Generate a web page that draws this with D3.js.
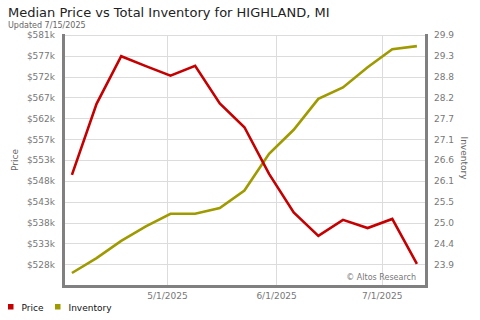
<!DOCTYPE html>
<html><head><meta charset="utf-8">
<script src="https://cdn.jsdelivr.net/npm/d3@7"></script>
<style>
body{margin:0;background:#fff;}
svg{display:block;font-family:"DejaVu Sans",sans-serif;}
</style></head>
<body><svg id="c" width="480" height="320"></svg>
<script>
const dates = ["2025-04-04","2025-04-11","2025-04-18","2025-04-25","2025-05-02","2025-05-09","2025-05-16","2025-05-23","2025-05-30","2025-06-06","2025-06-13","2025-06-20","2025-06-27","2025-07-04","2025-07-11"];
const price = [549.1,565.5,576.5,574.2,572.0,574.3,565.6,560.1,549.3,540.4,535.0,538.7,536.8,538.9,528.5];
const inventory = [23.64,24.03,24.48,24.86,25.19,25.19,25.34,25.80,26.76,27.39,28.20,28.50,29.03,29.50,29.58];
const priceTickLabels = ["$581k","$577k","$572k","$567k","$562k","$557k","$553k","$548k","$543k","$538k","$533k","$528k"];
const invTickLabels = ["29.9","29.3","28.8","28.2","27.7","27.1","26.6","26.1","25.5","25.0","24.4","23.9"];
const xTickDates = ["2025-05-01","2025-06-01","2025-07-01"];
const xTickLabels = ["5/1/2025","6/1/2025","7/1/2025"];
const priceTop = 581.4, priceStep = 4.813;
const invTop = 29.872, invStep = 0.5455;

const svg = d3.select("#c");
const L = 64, R = 426, T = 35, B = 285;
const parse = d3.utcParse("%Y-%m-%d");
const x = d3.scaleUtc().domain([new Date(Date.UTC(2025,3,1,18,0)), new Date(Date.UTC(2025,6,13,14,0))]).range([L, R]);
const yP = d3.scaleLinear().domain([priceTop - 12*priceStep, priceTop]).range([B, T]);
const yI = d3.scaleLinear().domain([invTop - 12*invStep, invTop]).range([B, T]);
const pTicks = priceTickLabels.map((d,i)=>priceTop - i*priceStep);
const iTicks = invTickLabels.map((d,i)=>invTop - i*invStep);

// gridlines
svg.append("g").selectAll("line").data(pTicks).join("line")
  .attr("x1", L).attr("x2", R).attr("y1", d=>Math.round(yP(d))+0.5).attr("y2", d=>Math.round(yP(d))+0.5)
  .attr("stroke","#dcdcdc").attr("stroke-width",1);
svg.append("g").selectAll("line").data(xTickDates).join("line")
  .attr("x1", d=>Math.round(x(parse(d)))+0.5).attr("x2", d=>Math.round(x(parse(d)))+0.5)
  .attr("y1", T).attr("y2", B)
  .attr("stroke","#dcdcdc").attr("stroke-width",1);

// axes bars
svg.append("line").attr("x1",L-0.5).attr("x2",L-0.5).attr("y1",T-1).attr("y2",B+3).attr("stroke","#808080").attr("stroke-width",3);
svg.append("line").attr("x1",R+0.5).attr("x2",R+0.5).attr("y1",T-1).attr("y2",B+3).attr("stroke","#808080").attr("stroke-width",3);
svg.append("line").attr("x1",L-2).attr("x2",R+2).attr("y1",B+1.5).attr("y2",B+1.5).attr("stroke","#808080").attr("stroke-width",3);

// axis labels
const leftAx = d3.axisLeft(yP).tickValues(pTicks).tickFormat((d,i)=>priceTickLabels[i]).tickSize(0).tickPadding(8);
const gL = svg.append("g").attr("transform",`translate(${L-1},0)`).call(leftAx);
gL.select(".domain").remove();
gL.selectAll("text").attr("fill","#777").style("font-size","9px").style("font-family","DejaVu Sans");

const rightAx = d3.axisRight(yI).tickValues(iTicks).tickFormat((d,i)=>invTickLabels[i]).tickSize(0).tickPadding(7);
const gR = svg.append("g").attr("transform",`translate(${R+1},0)`).call(rightAx);
gR.select(".domain").remove();
gR.selectAll("text").attr("fill","#777").style("font-size","9px").style("font-family","DejaVu Sans");

const botAx = d3.axisBottom(x).tickValues(xTickDates.map(parse)).tickFormat((d,i)=>xTickLabels[i]).tickSize(0).tickPadding(7);
const gB = svg.append("g").attr("transform",`translate(0,${B+1})`).call(botAx);
gB.select(".domain").remove();
gB.selectAll("text").attr("fill","#777").style("font-size","9px").style("font-family","DejaVu Sans");

// lines
const pts = dates.map((d,i)=>({d:parse(d), p:price[i], v:inventory[i]}));
svg.append("path").datum(pts).attr("fill","none").attr("stroke","#9e9a00").attr("stroke-width",2.6)
  .attr("stroke-linejoin","miter")
  .attr("d", d3.line().x(d=>x(d.d)).y(d=>yI(d.v)));
svg.append("path").datum(pts).attr("fill","none").attr("stroke","#c40000").attr("stroke-width",2.6)
  .attr("stroke-linejoin","miter")
  .attr("d", d3.line().x(d=>x(d.d)).y(d=>yP(d.p)));

// credits
svg.append("text").attr("x",416).attr("y",280).attr("text-anchor","end").attr("fill","#777").style("font-size","8px").text("\u00A9 Altos Research");

// titles
svg.append("text").attr("x",8).attr("y",17).attr("fill","#222").style("font-size","13px").text("Median Price vs Total Inventory for HIGHLAND, MI");
svg.append("text").attr("x",8).attr("y",28).attr("fill","#666").style("font-size","8px").text("Updated 7/15/2025");

// axis titles
svg.append("text").attr("transform","translate(18,160) rotate(-90)").attr("text-anchor","middle").attr("fill","#666").style("font-size","9px").text("Price");
svg.append("text").attr("transform","translate(461,158) rotate(90)").attr("text-anchor","middle").attr("fill","#666").style("font-size","9px").text("Inventory");

// legend
const leg = [{n:"Price",c:"#c40000",x:8},{n:"Inventory",c:"#9e9a00",x:55}];
const lg = svg.append("g").selectAll("g").data(leg).join("g");
lg.append("rect").attr("x",d=>d.x).attr("y",304).attr("width",5.5).attr("height",5.5).attr("fill",d=>d.c);
lg.append("text").attr("x",d=>d.x+13.5).attr("y",310.5).attr("fill","#111").style("font-size","9px").text(d=>d.n);
</script></body></html>
